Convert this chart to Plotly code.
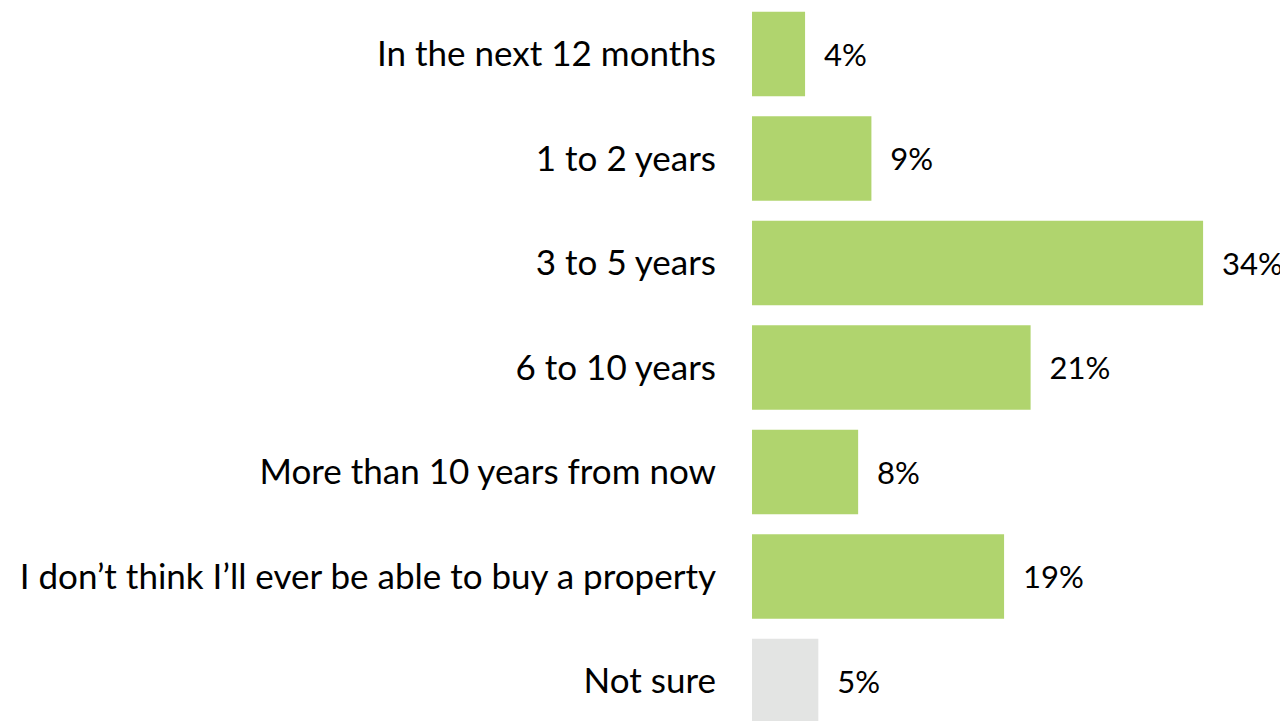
import plotly.graph_objects as go

categories = [
    "In the next 12 months",
    "1 to 2 years",
    "3 to 5 years",
    "6 to 10 years",
    "More than 10 years from now",
    "I don\u2019t think I\u2019ll ever be able to buy a property",
    "Not sure",
]
values = [4, 9, 34, 21, 8, 19, 5]
labels = ["4%", "9%", "34%", "21%", "8%", "19%", "5%"]
colors = ["#B0D46E"] * 6 + ["#E3E4E3"]

fig = go.Figure(
    go.Bar(
        y=categories,
        x=values,
        orientation="h",
        marker=dict(color=colors, line=dict(width=0)),
        width=0.81,
        text=["  " + t for t in labels],
        textposition="outside",
        textfont=dict(family="Lato", size=31, color="#000000"),
        cliponaxis=False,
    )
)

fig.update_layout(
    width=1280,
    height=713,
    margin=dict(l=744, r=0, t=0, b=0),
    paper_bgcolor="white",
    plot_bgcolor="white",
    showlegend=False,
    font=dict(family="Lato", size=35, color="#000000"),
    xaxis=dict(range=[0, 40.4], visible=False, showgrid=False, zeroline=False),
    yaxis=dict(
        categoryorder="array",
        categoryarray=categories,
        range=[6.383, -0.440],
        showgrid=False,
        zeroline=False,
        showline=False,
        ticks="",
        ticklabelstandoff=35,
        tickfont=dict(family="Lato", size=35, color="#000000"),
    ),
)

fig.write_html("out.html")
